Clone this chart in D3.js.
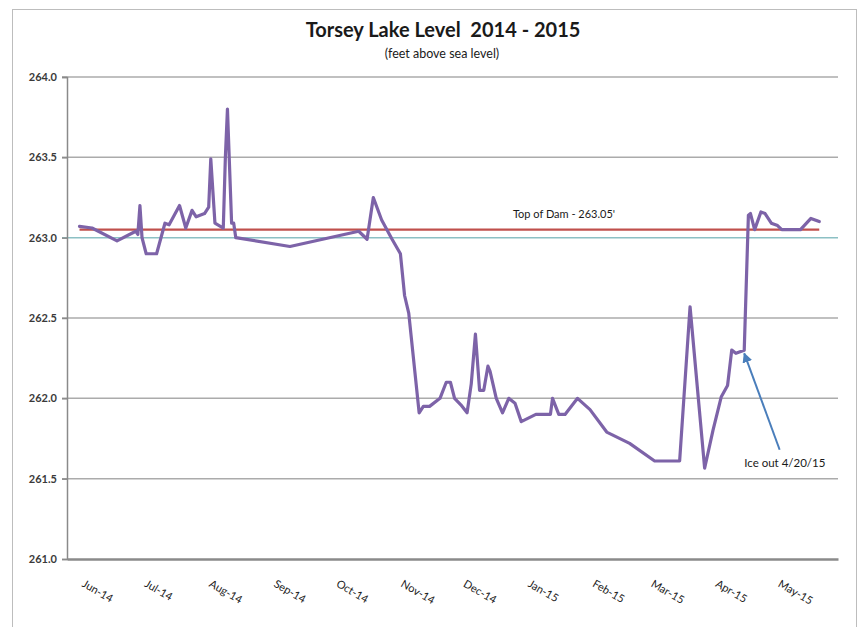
<!DOCTYPE html>
<html><head><meta charset="utf-8">
<script src="https://cdn.jsdelivr.net/npm/d3@7"></script>
<style>
body{margin:0;background:#fff}
svg{display:block}
text{font-family:Lato,"Liberation Sans",sans-serif}
</style>
</head><body>
<svg id="c" width="860" height="627"></svg>
<script>
// ---- data ----
const dates = [
"2014-05-29","2014-06-04","2014-06-16","2014-06-25","2014-06-26","2014-06-27","2014-06-28","2014-06-30",
"2014-07-05","2014-07-09","2014-07-11","2014-07-16","2014-07-19","2014-07-22","2014-07-24","2014-07-28",
"2014-07-30","2014-07-31","2014-08-02","2014-08-06","2014-08-07","2014-08-08","2014-08-10","2014-08-11",
"2014-08-12","2014-09-07","2014-10-10","2014-10-14","2014-10-17","2014-10-21","2014-10-26","2014-10-30",
"2014-11-01","2014-11-03","2014-11-08","2014-11-10","2014-11-13","2014-11-18","2014-11-21","2014-11-23",
"2014-11-25","2014-11-28","2014-12-01","2014-12-03","2014-12-05","2014-12-07","2014-12-09","2014-12-11",
"2014-12-12","2014-12-15","2014-12-18","2014-12-21","2014-12-24","2014-12-27","2015-01-03","2015-01-10",
"2015-01-11","2015-01-14","2015-01-17","2015-01-23","2015-01-29","2015-02-06","2015-02-17","2015-03-01",
"2015-03-13","2015-03-18","2015-03-25","2015-03-29","2015-04-02","2015-04-05","2015-04-07","2015-04-09",
"2015-04-13","2015-04-15","2015-04-16","2015-04-18","2015-04-21","2015-04-23","2015-04-26","2015-04-29",
"2015-05-01","2015-05-10","2015-05-15","2015-05-19"];
const levels = [
263.07,263.06,262.98,263.04,263.02,263.20,263.00,262.90,
262.90,263.09,263.08,263.20,263.06,263.17,263.13,263.15,
263.19,263.49,263.09,263.06,263.50,263.80,263.09,263.09,
263.00,262.945,263.04,262.99,263.25,263.11,262.99,262.90,
262.64,262.53,261.91,261.95,261.95,262.00,262.10,262.10,
262.00,261.96,261.91,262.09,262.40,262.05,262.05,262.20,
262.17,262.00,261.91,262.00,261.97,261.855,261.90,261.90,
262.00,261.90,261.90,262.00,261.93,261.79,261.72,261.61,
261.61,262.57,261.565,261.80,262.01,262.08,262.30,262.28,
262.30,263.14,263.15,263.05,263.16,263.15,263.09,263.075,
263.05,263.05,263.12,263.10];
const damLevel = 263.05;
const normalLevel = 263.0;
const yTickValues = [261.0,261.5,262.0,262.5,263.0,263.5,264.0];
const monthTicks = ["2014-06-01","2014-07-01","2014-08-01","2014-09-01","2014-10-01","2014-11-01",
"2014-12-01","2015-01-01","2015-02-01","2015-03-01","2015-04-01","2015-05-01"];
const axisStart = "2014-05-23", axisEnd = "2015-05-28";
const titleText = "Torsey Lake Level  2014 - 2015";
const subtitleText = "(feet above sea level)";
const damLabel = "Top of Dam - 263.05'";
const iceLabel = "Ice out 4/20/15";
const iceTip = {date:"2015-04-13", level:262.28};
const iceTail = {date:"2015-04-30", level:261.68};
const damLabelPos = {date:"2014-12-23", level:263.12};
const iceLabelPos = {date:"2015-04-13", level:261.57};

// ---- chart ----
const parse = d3.timeParse("%Y-%m-%d");
const fmt = d3.timeFormat("%b-%y");
const data = dates.map((d,i)=>({date:parse(d), level:levels[i]}));
const svg = d3.select("#c");
const L=67, R=838, T=77, B=559;
const x = d3.scaleTime().domain([parse(axisStart), parse(axisEnd)]).range([L,R]);
const y = d3.scaleLinear().domain([261,264]).range([B,T]);

svg.append("rect").attr("x",12.5).attr("y",9.5).attr("width",844).attr("height",640)
  .attr("fill","#fff").attr("stroke","#bdbdbd").attr("stroke-width",1);

svg.append("text").attr("x",443).attr("y",37).attr("text-anchor","middle")
  .attr("font-size",20).attr("font-weight","bold").attr("fill","#1a1a1a")
  .style("white-space","pre").text(titleText);
svg.append("text").attr("x",442).attr("y",58).attr("text-anchor","middle")
  .attr("font-size",12.5).attr("fill","#1a1a1a").text(subtitleText);

// gridlines
svg.append("g").selectAll("line").data(yTickValues.filter(v=>v>261)).join("line")
  .attr("x1",L-5).attr("x2",R).attr("y1",d=>y(d)).attr("y2",d=>y(d))
  .attr("stroke",d=>d===normalLevel?"#8cc0c4":"#ababab").attr("stroke-width",1.5);

// y axis
const ya = d3.axisLeft(y).tickValues(yTickValues).tickFormat(d3.format(".1f")).tickSize(5).tickPadding(5);
const gy = svg.append("g").attr("transform",`translate(${L},0)`).call(ya);
gy.select(".domain").attr("stroke","#8a8a8a").attr("stroke-width",1.5);
gy.selectAll(".tick line").attr("stroke","#8a8a8a").attr("stroke-width",1.5);
gy.selectAll(".tick text").attr("font-size",11).attr("font-weight","bold").attr("fill","#3a3a3a").attr("font-family","Lato");

// x axis
const xa = d3.axisBottom(x).tickValues(monthTicks.map(parse)).tickFormat(fmt).tickSize(0).tickPadding(0);
const gx = svg.append("g").attr("transform",`translate(0,${B})`).call(xa);
gx.select(".domain").attr("stroke","#8a8a8a").attr("stroke-width",2.5);
gx.selectAll(".tick text").attr("font-size",11).attr("fill","#222").attr("font-family","Lato")
  .attr("text-anchor","start").attr("dy",0).attr("y",0)
  .attr("transform","translate(-5,27) rotate(30)");

// dam line
const dExt = d3.extent(data,d=>d.date);
svg.append("line").attr("x1",x(dExt[0])).attr("x2",x(dExt[1]))
  .attr("y1",y(damLevel)).attr("y2",y(damLevel)).attr("stroke","#c0504d").attr("stroke-width",2.2);

// level line
svg.append("path").datum(data)
  .attr("d",d3.line().x(d=>x(d.date)).y(d=>y(d.level)))
  .attr("fill","none").attr("stroke","#7d63a8").attr("stroke-width",3.2)
  .attr("stroke-linejoin","round").attr("stroke-linecap","round");

// annotations
svg.append("text").attr("x",x(parse(damLabelPos.date))).attr("y",y(damLabelPos.level))
  .attr("font-size",11).attr("fill","#1a1a1a").text(damLabel);
svg.append("text").attr("x",x(parse(iceLabelPos.date))).attr("y",y(iceLabelPos.level))
  .attr("font-size",11.5).attr("fill","#1a1a1a").text(iceLabel);

svg.append("defs").append("marker").attr("id","ah").attr("viewBox","0 0 10 10")
  .attr("refX",9).attr("refY",5).attr("markerWidth",5).attr("markerHeight",5)
  .attr("orient","auto").append("path").attr("d","M0,0L10,5L0,10z").attr("fill","#4a7ebb");
svg.append("line")
  .attr("x1",x(parse(iceTail.date))).attr("y1",y(iceTail.level))
  .attr("x2",x(parse(iceTip.date))).attr("y2",y(iceTip.level))
  .attr("stroke","#4a7ebb").attr("stroke-width",2).attr("marker-end","url(#ah)");
</script>
</body></html>
